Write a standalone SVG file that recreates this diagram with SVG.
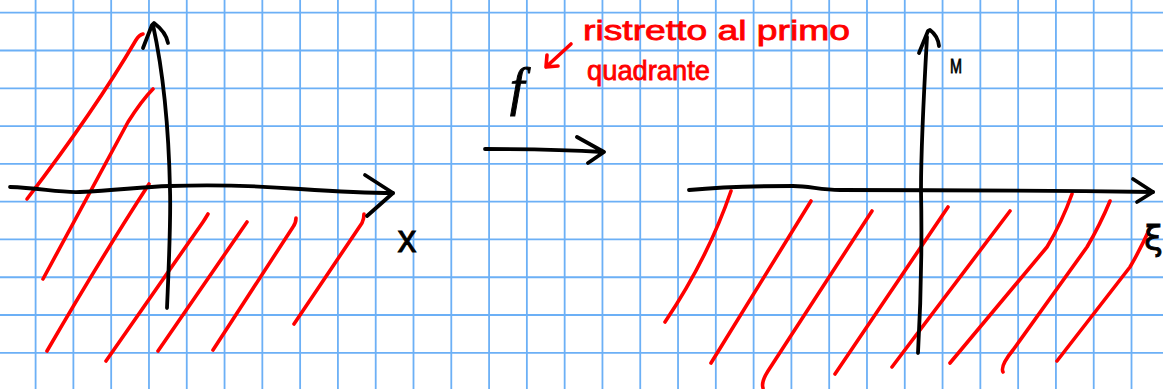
<svg xmlns="http://www.w3.org/2000/svg" width="1163" height="389" viewBox="0 0 1163 389">
<style>
.grid{stroke:#6cb0f6;stroke-width:1.8;fill:none}
.ink{stroke:#000;stroke-width:3.8;fill:none;stroke-linecap:round;stroke-linejoin:round}
.red{stroke:#ff0000;stroke-width:3.6;fill:none;stroke-linecap:round;stroke-linejoin:round}
.hand{font-family:"Liberation Sans",Arial,sans-serif}
.rtext{fill:#ff0000;stroke:#ff0000;stroke-width:0.8;font-size:28px}
.btext{fill:#000;stroke:#000;stroke-width:0.8}
</style>
<rect width="1163" height="389" fill="#fff"/>
<g id="grid">
<path class="grid" d="M35.6 0V389M73.39 0V389M111.18 0V389M148.97 0V389M186.76 0V389M224.55 0V389M262.34 0V389M300.13 0V389M337.92 0V389M375.71 0V389M413.5 0V389M451.29 0V389M489.08 0V389M526.87 0V389M564.66 0V389M602.45 0V389M640.24 0V389M678.03 0V389M715.82 0V389M753.61 0V389M791.4 0V389M829.19 0V389M866.98 0V389M904.77 0V389M942.56 0V389M980.35 0V389M1018.14 0V389M1055.93 0V389M1093.72 0V389M1131.51 0V389"/>
<path class="grid" d="M0 12.7H1163M0 50.49H1163M0 88.28H1163M0 126.07H1163M0 163.86H1163M0 201.65H1163M0 239.44H1163M0 277.23H1163M0 315.02H1163M0 352.81H1163"/>
</g>
<g id="left-plot">
<g id="left-hatching">
<path class="red" d="M143 34 Q139 35 136 40 Q95 110 27 199"/>
<path class="red" d="M153 89 Q142 100 128 122 L43 279"/>
<path class="red" d="M149 184 Q101 258 47 351"/>
<path class="red" d="M208 214 Q205 219 203 222 L106 361"/>
<path class="red" d="M247 222 L158 351"/>
<path class="red" d="M296 218 Q296 223 293 227 L213 350"/>
<path class="red" d="M364 214 Q364 219 362 223 L294 324"/>
</g>
<g id="left-axes">
<path class="ink" d="M167 308 C169 260 171 220 170 190 C169 140 165 80 153 25"/>
<path class="ink" d="M143 48 L152 25 L154 23 Q166 32 168 43"/>
<path class="ink" d="M10 187 C40 188 60 193 80 192 C120 190 140 187 170 186 C220 184 260 186 300 189 C330 191 360 193 393 193"/>
<path class="ink" d="M365 175 L393 193 L367 216"/>
</g>
<text id="label-x" class="hand btext" x="407" y="252" font-size="38" text-anchor="middle">x</text>
</g>
<g id="map-label">
<text id="label-f" x="510" y="105" font-family="'Liberation Serif',serif" font-style="italic" font-size="52" fill="#000" stroke="#000" stroke-width="1">f</text>
<text id="note" class="hand rtext"><tspan x="583" y="40" textLength="267" lengthAdjust="spacingAndGlyphs">ristretto al primo</tspan><tspan x="587" y="80" textLength="123" lengthAdjust="spacingAndGlyphs">quadrante</tspan></text>
</g>
<g id="connectors">
<path class="red" d="M571 44 L546 67 M547 55 L546 67 L558 66"/>
<path class="ink" d="M485 149 C530 149 570 150 603 152 M577 137 L604 152 L588 163"/>
</g>
<g id="right-plot">
<g id="right-hatching">
<path class="red" d="M731 191 Q708 258 665 322"/>
<path class="red" d="M811 201 L711 363"/>
<path class="red" d="M872 211 L768 371 Q761 382 763 388"/>
<path class="red" d="M948 207 L835 374"/>
<path class="red" d="M1010 211 L892 367"/>
<path class="red" d="M1072 194 Q1062 222 1047 247 L950 363"/>
<path class="red" d="M1110 201 Q1100 225 1087 247 L1013 350 Q1000 366 1003 372"/>
<path class="red" d="M1150 228 Q1140 250 1130 267 L1057 361"/>
</g>
<g id="right-axes">
<path class="ink" d="M918 353 C921 300 922 240 921 190 C921 150 924 90 927 37"/>
<path class="ink" d="M919 53 L928 31 L930 30 Q938 36 939 46"/>
<path class="ink" d="M689 190 C720 187 760 186 793 186 C810 186 820 190 840 190 C900 190 1000 190 1153 192"/>
<path class="ink" d="M1133 179 L1153 192 L1137 202"/>
</g>
<text id="label-M" class="hand btext" x="950" y="73" font-size="20" textLength="12" lengthAdjust="spacingAndGlyphs">M</text>
<text id="label-xi" x="1144" y="250" font-family="'DejaVu Sans',sans-serif" font-size="34" fill="#000" stroke="#000" stroke-width="0.8">ξ</text>
</g>
</svg>
